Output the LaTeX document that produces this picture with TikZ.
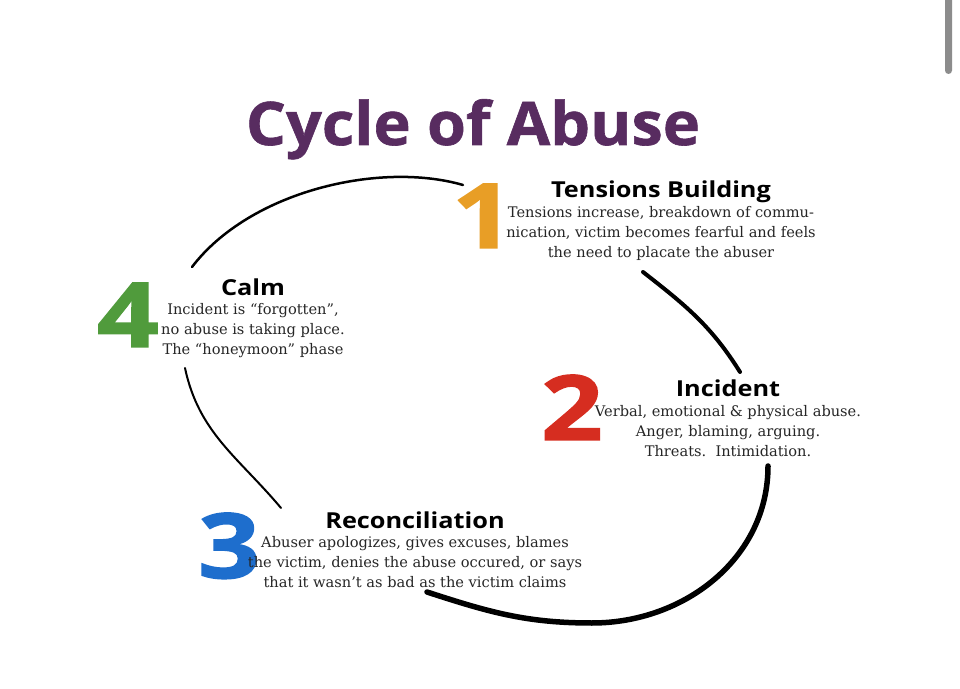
\documentclass[tikz,border=0pt]{standalone}
\usepackage{fontspec}
\setmainfont{Liberation Serif}
\newfontfamily\bodyfont{DejaVu Serif}[Ligatures=TeX]
\newfontfamily\headfont{Open Sans}[FakeStretch=1.15]
\newfontfamily\titlefont{Open Sans}[FakeStretch=1.05, FakeBold=1]
\newfontfamily\numfont{Open Sans}[FakeBold=1.5]
\usepackage{tikz}
\usetikzlibrary{positioning}
\definecolor{TitlePurple}{RGB}{88,44,96}
\definecolor{StepOrange}{RGB}{232,158,38}
\definecolor{StepRed}{RGB}{214,45,32}
\definecolor{StepBlue}{RGB}{30,110,205}
\definecolor{StepGreen}{RGB}{80,155,60}

\tikzset{
	heading/.style={font=\headfont\bfseries\fontsize{22}{24}\selectfont, inner sep=0pt, anchor=base},
	body/.style={font=\bodyfont\fontsize{14.6}{20}\selectfont, align=center, inner sep=0pt, text=black!85},
	number/.style={font=\numfont\bfseries\fontsize{90}{90}\selectfont, inner ysep=0pt, inner xsep=-7pt,
		text height=65pt, text depth=0pt, anchor=base, xscale=1.2, transform shape},
}

\begin{document}
\begin{tikzpicture}[x=1pt, y=1pt]
		\fill[white] (0,0) rectangle (960,688);
		\useasboundingbox (0,0) rectangle (960,688);
		\fill[gray!90, rounded corners=3.5pt] (945,614) rectangle (952,700); % scroll bar
		
		\node[heading, font=\titlefont\bfseries\fontsize{60}{60}\selectfont, text=TitlePurple] (title) at (473,543) {Cycle of Abuse};
		
		% the four phases
		\node[number, text=StepOrange] (num1) at (483,440) {1};
		\node[heading] (head1) at (661,490) {Tensions Building};
		\node[body, below=3pt of head1] (body1) {Tensions increase, breakdown of commu-\\nication, victim becomes fearful and feels\\the need to placate the abuser};
		
		\node[number, text=StepRed] (num2) at (572,248) {2};
		\node[heading] (head2) at (728,291) {Incident};
		\node[body, below=8pt of head2] (body2) {Verbal, emotional \& physical abuse.\\Anger, blaming, arguing.\\Threats.\ \ Intimidation.};
		
		\node[number, text=StepBlue] (num3) at (229,110) {3};
		\node[heading] (head3) at (415,160) {Reconciliation};
		\node[body, below=8pt of head3] (body3) {Abuser apologizes, gives excuses, blames\\the victim, denies the abuse occured, or says\\that it wasn't as bad as the victim claims};
		
		\node[number, text=StepGreen] (num4) at (128,341) {4};
		\node[heading] (head4) at (253,392) {Calm};
		\node[body, below=7pt of head4] (body4) {Incident is ``forgotten'',\\no abuse is taking place.\\The ``honeymoon'' phase};
		
		% the cycle
		\coordinate (a1s) at (192,421);
		\coordinate (a1e) at (463,503);
		\coordinate (a2s) at (643,416);
		\coordinate (a2e) at (740,316);
		\coordinate (a3s) at (768,222);
		\coordinate (a3m) at (592,65);
		\coordinate (a3e) at (427,96);
		\coordinate (a4s) at (185,320);
		\coordinate (a4e) at (281,180);
		
		\draw[line width=2.5pt, line cap=round] (a1s) .. controls (250,497) and (380,527) .. (a1e);
		\draw[line width=4pt, line cap=round] (a2s) to[out=-38, in=122] (a2e);
		\draw[line width=5.5pt, line cap=round] (a3s) to[out=-90, in=0] (a3m) to[out=180, in=-18] (a3e);
		\draw[line width=2pt, line cap=round] (a4s) to[out=-78, in=130] (a4e);
	\end{tikzpicture}
\end{document}
